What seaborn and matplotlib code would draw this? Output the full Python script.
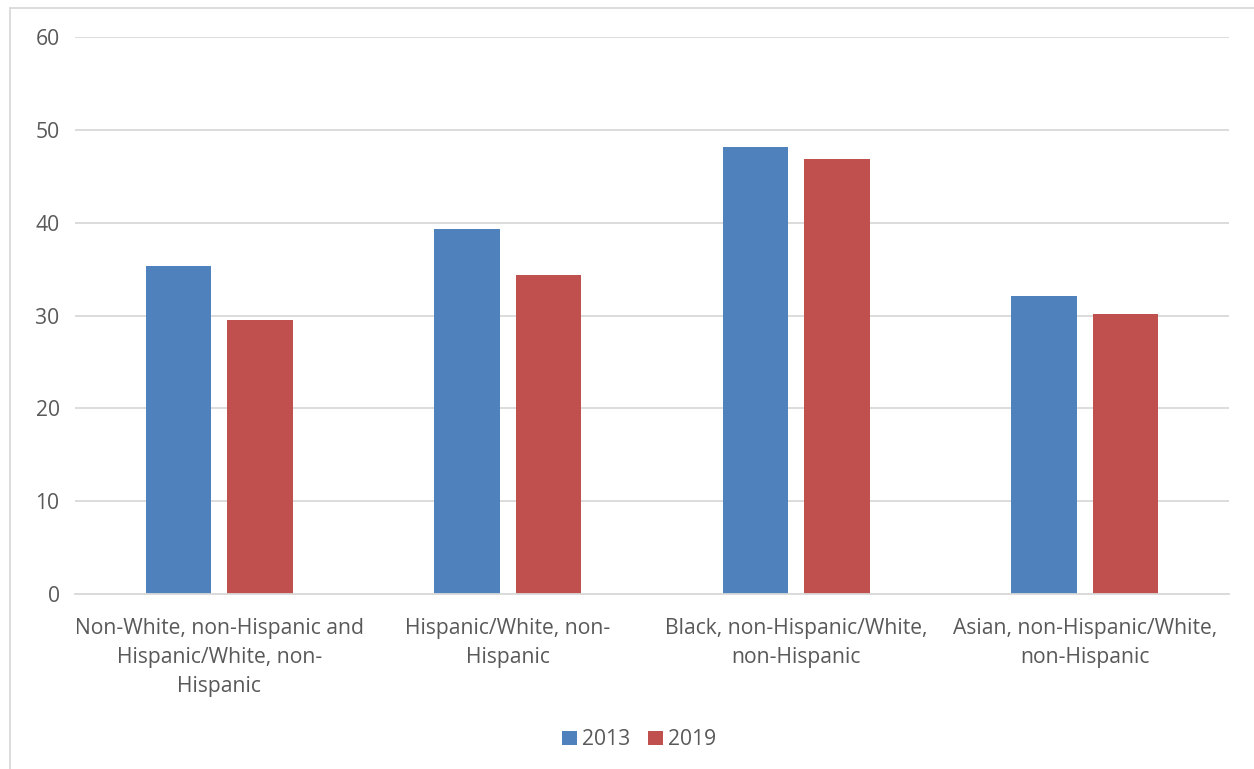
import matplotlib
matplotlib.use("Agg")
import matplotlib.pyplot as plt
from matplotlib.lines import Line2D
import seaborn as sns
import pandas as pd

categories = [
    "Non-White, non-Hispanic and\nHispanic/White, non-\nHispanic",
    "Hispanic/White, non-\nHispanic",
    "Black, non-Hispanic/White,\nnon-Hispanic",
    "Asian, non-Hispanic/White,\nnon-Hispanic",
]
years = ["2013", "2019"]
values_2013 = [35.3, 39.3, 48.1, 32.1]
values_2019 = [29.5, 34.4, 46.9, 30.2]
y_ticks = [0, 10, 20, 30, 40, 50, 60]

df = pd.DataFrame({
    "category": categories * 2,
    "year": [years[0]] * 4 + [years[1]] * 4,
    "value": values_2013 + values_2019,
})

sns.set_theme(style="white")
plt.rcParams["font.family"] = ["Open Sans", "DejaVu Sans"]

text_color = "#595959"
grid_color = "#D9D9D9"
palette = {"2013": "#4F81BD", "2019": "#C0504D"}
font_size = 15.2

fig = plt.figure(figsize=(12.54, 7.69), dpi=100)
ax = fig.add_axes([75 / 1254, 1 - 594 / 769, (1229 - 75) / 1254, (594 - 37) / 769])

sns.barplot(data=df, x="category", y="value", hue="year", palette=palette,
            width=0.565, gap=0.2, ax=ax, saturation=1, edgecolor="none")

ax.set_ylim(0, 60)
ax.set_yticks(y_ticks)
ax.set_xlim(-0.5, len(categories) - 0.5)
ax.yaxis.grid(True, color=grid_color, linewidth=1.3)
ax.set_axisbelow(True)
for s in ["top", "right", "left"]:
    ax.spines[s].set_visible(False)
ax.spines["bottom"].set_color(grid_color)
ax.spines["bottom"].set_linewidth(1.3)
ax.set_xlabel("")
ax.set_ylabel("")
ax.tick_params(axis="both", length=0, colors=text_color, labelsize=font_size)
ax.tick_params(axis="y", pad=11)
ax.tick_params(axis="x", pad=17)
for lbl in ax.get_xticklabels():
    lbl.set_linespacing(1.5)

leg = ax.legend(loc="upper center", bbox_to_anchor=(0.489, -0.209), ncol=2, frameon=False,
                fontsize=font_size, handlelength=0.7, handleheight=0.7, handletextpad=0.25,
                columnspacing=0.85)
for t in leg.get_texts():
    t.set_color(text_color)

# chart frame: top and left edges
y_top = 1 - 8 / 769
x_left = 10 / 1254
fig.add_artist(Line2D([x_left, 1.0], [y_top, y_top], transform=fig.transFigure,
                      color=grid_color, linewidth=1.3))
fig.add_artist(Line2D([x_left, x_left], [0.0, y_top], transform=fig.transFigure,
                      color=grid_color, linewidth=1.3))

fig.savefig("out.png", dpi=100)
